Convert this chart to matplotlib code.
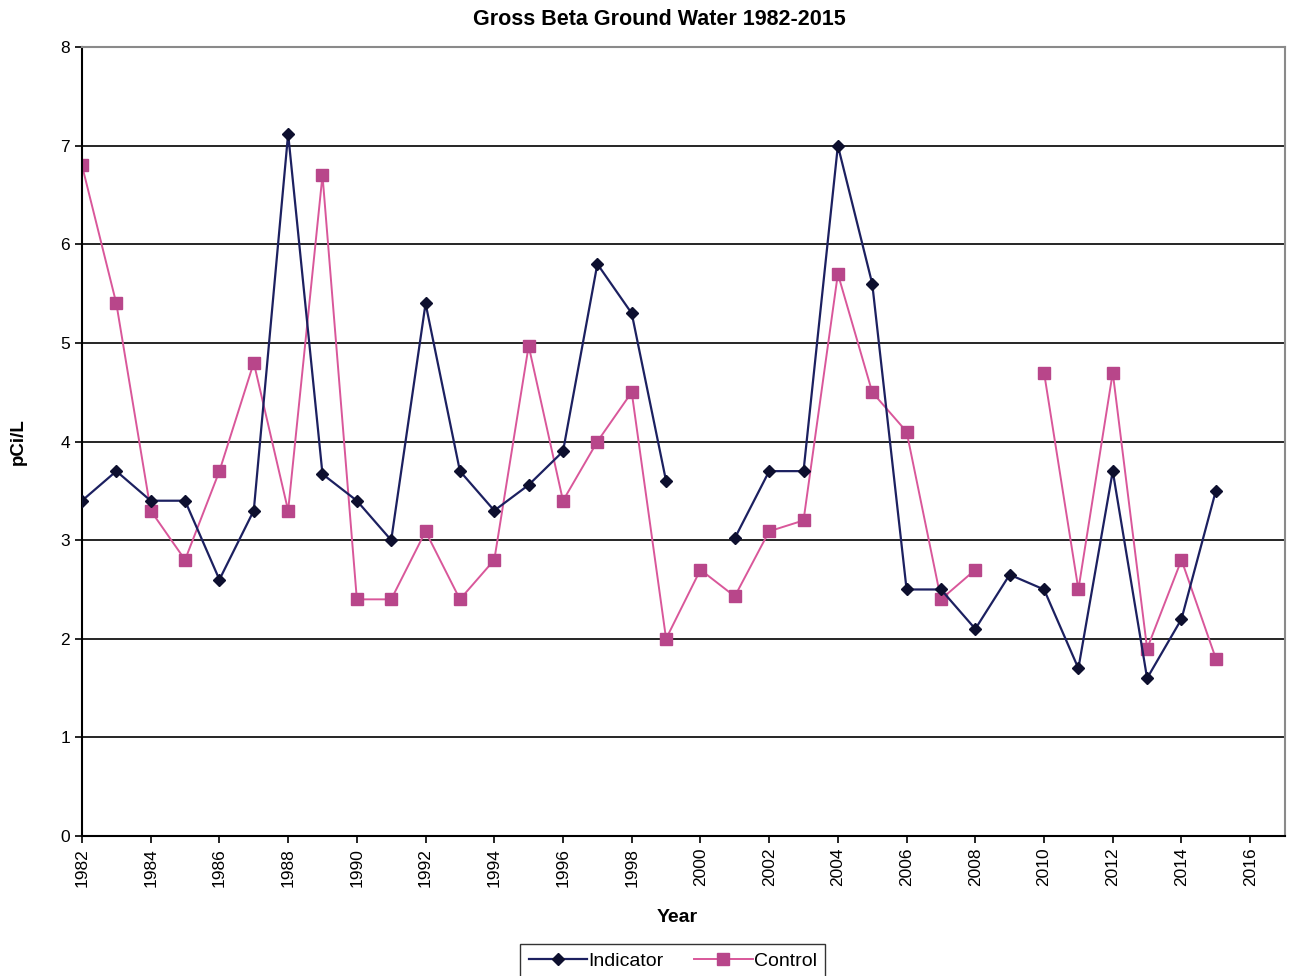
import numpy as np
import matplotlib
matplotlib.use("Agg")
import matplotlib.pyplot as plt

years = list(range(1982, 2016))
indicator = [3.4, 3.7, 3.4, 3.4, 2.6, 3.3, 7.12, 3.67, 3.4, 3.0,
             5.4, 3.7, 3.3, 3.56, 3.9, 5.8, 5.3, 3.6, np.nan, 3.02,
             3.7, 3.7, 7.0, 5.6, 2.5, 2.5, 2.1, 2.65, 2.5, 1.7,
             3.7, 1.6, 2.2, 3.5]
control = [6.8, 5.4, 3.3, 2.8, 3.7, 4.8, 3.3, 6.7, 2.4, 2.4,
           3.09, 2.4, 2.8, 4.97, 3.4, 4.0, 4.5, 2.0, 2.7, 2.43,
           3.09, 3.2, 5.7, 4.5, 4.1, 2.4, 2.7, np.nan, 4.7, 2.5,
           4.7, 1.9, 2.8, 1.8]
xticks = list(range(1982, 2017, 2))
yticks = list(range(0, 9))

plt.rcParams['font.family'] = ['Liberation Sans', 'DejaVu Sans']

fig = plt.figure(figsize=(12.91, 9.76), dpi=100)
ax = fig.add_axes([0.0635, 0.1434, 0.9315, 0.8084])

# horizontal grid lines
ax.grid(which='major', axis='y', linestyle='-', color='black', linewidth=1.2, zorder=0)

ax.plot(years, indicator, color='#1c2060', linewidth=1.6, marker='D', markersize=6.5,
        markerfacecolor='#0d0f2e', markeredgecolor='#0d0f2e', label='Indicator', zorder=3)
ax.plot(years, control, color='#d9579a', linewidth=1.4, marker='s', markersize=9,
        markerfacecolor='#b8468a', markeredgecolor='#b8468a', label='Control', zorder=2)

ax.set_xlim(1982, 2017)
ax.set_ylim(0, 8)
ax.set_xticks(xticks)
ax.set_xticklabels([str(x) for x in xticks], rotation=90, fontsize=12.5)
ax.set_yticks(yticks)
ax.set_yticklabels([str(y) for y in yticks], fontsize=12.5)
ax.tick_params(axis='both', direction='out', length=5, width=1.2, color='black')

for side in ['top', 'right']:
    ax.spines[side].set_color('#8a8a8a')
    ax.spines[side].set_linewidth(1.5)
for side in ['left', 'bottom']:
    ax.spines[side].set_color('black')
    ax.spines[side].set_linewidth(1.5)

fig.text(0.511, 0.980, "Gross Beta Ground Water 1982-2015", fontsize=15.5,
         fontweight='bold', ha='center', va='center')
ax.set_xlabel("Year", fontsize=14, fontweight='bold', labelpad=12)
ax.xaxis.set_label_coords(0.495, -0.092)
ax.set_ylabel("pCi/L", fontsize=13.5, fontweight='bold', labelpad=24)

leg = fig.legend(loc='lower center', bbox_to_anchor=(0.521, -0.013), ncol=2, fontsize=14,
                 frameon=True, fancybox=False, edgecolor='black', handlelength=3.0,
                 columnspacing=1.6, handletextpad=0.05, borderpad=0.45)
leg.get_frame().set_linewidth(1.0)

plt.savefig('out.png', dpi=100)
